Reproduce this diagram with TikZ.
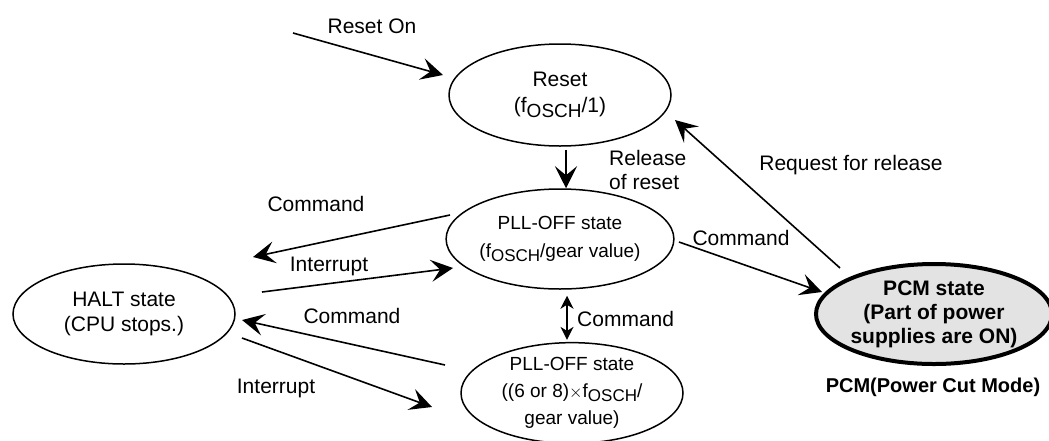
\documentclass[tikz,border=0pt]{standalone}
\usepackage{fontspec}
\setmainfont{Liberation Sans}
\usetikzlibrary{shapes.geometric,arrows.meta}
\newcommand\fosch[1]{f\raisebox{-0.4ex}{\fontsize{#1}{#1}\selectfont OSCH}}
\tikzset{
  state/.style={ellipse, draw, line width=1.5pt, inner sep=0pt, align=center},
  arr/.style={line width=1.6pt, -{Stealth[length=22pt,width=22pt,inset=9pt]}},
  darr/.style={line width=1.6pt, {Stealth[length=13pt,width=13pt,inset=4pt]}-{Stealth[length=13pt,width=13pt,inset=4pt]}},
  lbl/.style={inner sep=0pt, font=\fontsize{21}{21}\selectfont},
}
\begin{document}
\begin{tikzpicture}[x=1pt,y=-1pt]
\useasboundingbox (0,0) rectangle (1049,440);
% states
\node[state, minimum width=222pt, minimum height=102pt, font=\fontsize{21}{26}\selectfont] (reset) at (560,95) {Reset\\(\fosch{19}/1)};
\node[state, minimum width=222pt, minimum height=100pt, font=\fontsize{19}{28}\selectfont] (pll1) at (560,239) {PLL-OFF state\\(\fosch{17}/gear value)};
\node[state, minimum width=222pt, minimum height=100pt, font=\fontsize{19}{27}\selectfont] (pll2) at (572,393) {PLL-OFF state\\((6 or 8)$\times$\fosch{17}/\\gear value)};
\node[state, minimum width=222pt, minimum height=100pt, font=\fontsize{21}{25}\selectfont] (halt) at (124,314) {HALT state\\(CPU stops.)};
\node[state, line width=4pt, fill=gray!22, minimum width=222pt, minimum height=100pt, font=\bfseries\fontsize{21}{24}\selectfont] (pcm) at (934,314) {PCM state\\(Part of power\\supplies are ON)};
% free connector ends
\coordinate (ron) at (293,33);
\coordinate (ronT) at (443,75);
\coordinate (rq1) at (840,268);
\coordinate (rq2) at (675,120);
\coordinate (pc0) at (679,242);
\coordinate (pc1) at (822,292);
\coordinate (ph0) at (450,215);
\coordinate (ph1) at (253,257);
\coordinate (hp0) at (262,292);
\coordinate (hp1) at (453,268);
\coordinate (qh0) at (445,365);
\coordinate (qh1) at (242,320);
\coordinate (hq0) at (242,338);
\coordinate (hq1) at (432,407);
% connectors
\draw[arr] (ron) -- (ronT);
\draw[arr] ([xshift=6pt,yshift=-3pt]reset.south) -- ([xshift=6pt]pll1.north);
\draw[arr] (rq1) -- (rq2);
\draw[arr] (pc0) -- (pc1);
\draw[arr] (ph0) -- (ph1);
\draw[arr] (hp0) -- (hp1);
\draw[arr] (qh0) -- (qh1);
\draw[arr] (hq0) -- (hq1);
\draw[darr] ([xshift=7pt,yshift=-6pt]pll1.south) -- ([xshift=-5pt,yshift=2pt]pll2.north);
% labels
\node[lbl] (l1) at (372,26) {Reset On};
\node[lbl, anchor=west, align=left, font=\fontsize{21}{24}\selectfont] (l2) at (609,170) {Release\\of reset};
\node[lbl] (l3) at (851,165) {Request for release};
\node[lbl] (l4) at (741,238) {Command};
\node[lbl] (l5) at (316,204) {Command};
\node[lbl] (l6) at (329,266) {Interrupt};
\node[lbl] (l7) at (352,316) {Command};
\node[lbl] (l8) at (276,388) {Interrupt};
\node[lbl, anchor=west] (l9) at (577,319) {Command};
\node[inner sep=0pt, font=\bfseries\fontsize{20}{20}\selectfont] (l10) at (933,387) {PCM(Power Cut Mode)};
\end{tikzpicture}
\end{document}
